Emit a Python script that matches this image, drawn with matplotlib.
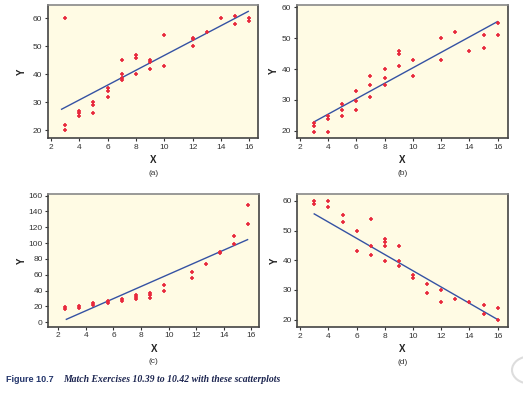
import numpy as np
from matplotlib import pyplot as plt
from matplotlib.patches import Circle

plt.rcParams['font.family'] = ['Liberation Sans', 'DejaVu Sans']

# (a)
xa = [3, 3, 3, 4, 4, 4, 5, 5, 5, 6, 6, 6, 7, 7, 7, 7, 8, 8, 8, 9, 9, 9,
      10, 10, 12, 12, 12, 13, 14, 15, 15, 16, 16]
ya = [60, 22, 20, 27, 26, 25, 30, 29, 26, 35, 34, 32, 45, 40, 38.5, 38, 47, 46, 40, 45, 44.5, 42,
      54, 43, 53, 52.5, 50, 55, 60, 61, 58, 60, 59]
line_a_x = [2.75, 15.93]
line_a_y = [27.5, 62.5]

# (b)
xb = [3, 3, 3, 4, 4, 4, 5, 5, 5, 6, 6, 6, 7, 7, 7, 8, 8, 8, 9, 9, 9,
      10, 10, 12, 12, 13, 14, 15, 15, 16, 16]
yb = [22.6, 21.6, 19.7, 24.9, 23.7, 19.7, 28.8, 26.7, 24.8, 32.9, 29.7, 26.7, 37.9, 34.8, 30.8,
      40, 37, 34.9, 46, 44.9, 40.9, 42.9, 37.9, 50, 42.9, 52.1, 45.9, 51.1, 46.9, 55, 51.1]
line_b_x = [3.04, 15.98]
line_b_y = [22.9, 55.4]

# (c)
xc = [2.51, 2.51, 3.52, 3.52, 4.54, 4.54, 5.58, 5.58, 6.59, 6.59, 7.61, 7.61, 7.61,
      8.62, 8.62, 8.62, 9.64, 9.64, 11.67, 11.67, 12.69, 13.7, 13.7, 14.74, 14.74, 15.73, 15.73]
yc = [19.8, 17.3, 20.2, 18.1, 24.4, 21.9, 26.5, 24, 29.5, 27, 34.5, 32.4, 29.9,
      37.5, 35, 30.3, 47.2, 40, 63.6, 56.4, 73.7, 88.4, 87, 108.6, 98.5, 148.2, 123.8]
line_c_x = [2.58, 15.73]
line_c_y = [3.8, 104.4]

# (d)
xd = [3, 3, 4, 4, 5, 5, 6, 6, 7, 7, 7, 8, 8, 8, 8, 9, 9, 9, 10, 10,
      11, 11, 12, 12, 13, 14, 15, 15, 16, 16]
yd = [60, 59, 60, 57.8, 55.1, 52.8, 49.9, 43, 53.8, 44.8, 41.9, 47.1, 46.1, 44.8, 39.9,
      44.8, 39.9, 37.9, 35.1, 34, 31.9, 28.9, 29.9, 26, 27, 26, 25, 21.9, 23.9, 19.9]
line_d_x = [2.99, 16.0]
line_d_y = [55.6, 20.0]

W, H = 523, 397
fig = plt.figure(figsize=(W / 100, H / 100), dpi=100)


def box(l, t, r, b):
    return [l / W, 1 - b / H, (r - l) / W, (b - t) / H]


def panel(rect, x, y, lx, ly, xlim, ylim, yticks, tag, lab_x, lab_y):
    ax = fig.add_axes(box(*rect))
    ax.set_facecolor('#fffbe4')
    ax.plot(lx, ly, color='#3552a3', lw=1.0, zorder=2)
    ax.plot(x, y, '+', color='#e8283c', ms=3, mew=1.2, zorder=3)
    ax.set_xlim(xlim)
    ax.set_ylim(ylim)
    ax.set_xticks(range(2, 17, 2))
    ax.set_yticks(yticks)
    ax.tick_params(labelsize=6, length=2.5, width=0.8, pad=1.5, colors='#333333')
    for s in ax.spines.values():
        s.set_color('#444444')
        s.set_linewidth(1.2)
    ax.spines['top'].set_color('#888888')
    l, t, r, b = rect
    cx = (l + r) / 2
    fig.text(cx / W, 1 - (b + 22) / H, 'X', fontsize=7, fontweight='bold',
             ha='center', va='center', color='#222222')
    fig.text(cx / W, 1 - (b + 35) / H, tag, fontsize=6, ha='center', va='center',
             color='#333333')
    fig.text(lab_x / W, 1 - lab_y / H, 'Y', fontsize=7, fontweight='bold', rotation=90,
             ha='center', va='center', color='#222222')
    return ax


panel((48, 4.7, 258.3, 138.3), xa, ya, line_a_x, line_a_y, (1.79, 16.64), (17.1, 64.9),
      [20, 30, 40, 50, 60], '(a)', 21.7, 71.7)
panel((296.7, 4.7, 508, 138.3), xb, yb, line_b_x, line_b_y, (1.79, 16.73), (17.5, 60.9),
      [20, 30, 40, 50, 60], '(b)', 274.3, 71)
panel((48.3, 194, 259.3, 326.7), xc, yc, line_c_x, line_c_y, (1.27, 16.58), (-5.5, 162),
      range(0, 161, 20), '(c)', 22, 260.7)
panel((297.3, 194.3, 508, 327), xd, yd, line_d_x, line_d_y, (1.79, 16.73), (17.5, 62.2),
      [20, 30, 40, 50, 60], '(d)', 274.7, 260.7)

fig.text(6.5 / W, 1 - 379.5 / H, 'Figure 10.7', fontsize=6.5, fontweight='bold',
         color='#23356b', va='center')
fig.text(63 / W, 1 - 379.5 / H, 'Match Exercises 10.39 to 10.42 with these scatterplots',
         fontsize=7, fontweight='bold', fontstyle='italic', family=['Liberation Serif'],
         color='#1c2550', va='center')

# corner button
fig.patches.append(Circle((530 / W, 1 - 370 / H), 18 / W, transform=fig.transFigure,
                          facecolor='white', edgecolor='#dddddd', lw=1.5))

fig.savefig('out.png', dpi=100)
